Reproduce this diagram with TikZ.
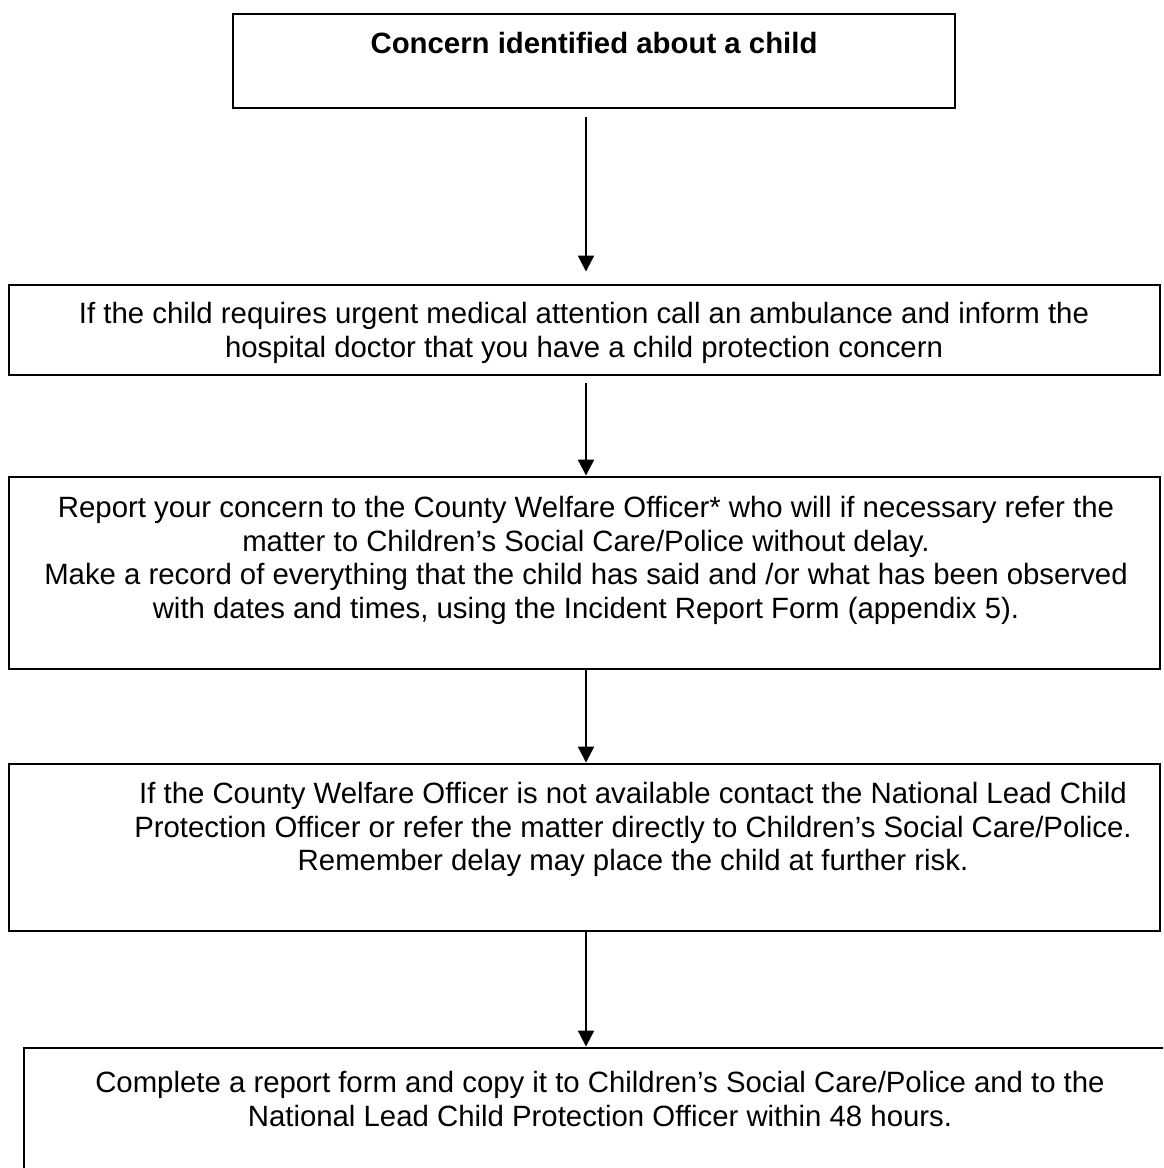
\documentclass[tikz,border=0pt]{standalone}
\usepackage{fontspec}
\setmainfont{Liberation Sans}
\usetikzlibrary{arrows.meta,fit}
\begin{document}
\begin{tikzpicture}[x=0.4088pt,y=-0.4088pt,
  box/.style={draw, line width=1.15pt, inner sep=0pt, rectangle},
  txt/.style={anchor=north, align=center, inner sep=0pt, font=\fontsize{12}{13.8}\selectfont},
  arr/.style={draw, line width=1.1pt, -{Triangle[length=6.5pt,width=6.4pt]}}]
\useasboundingbox (0,0) rectangle (1163,1168);
\clip (0,0) rectangle (1163,1168);
% boxes
\node[box, fit={(233,14)(955,108)}] (b1) {};
\node[box, fit={(9,285)(1160,375)}] (b2) {};
\node[box, fit={(9,477)(1160,669)}] (b3) {};
\node[box, fit={(9,764)(1160,931)}] (b4) {};
\node[box, fit={(24,1048)(1260,1300)}] (b5) {};
% texts
\node[txt] (t1) at (594,31.5) {\bfseries Concern identified about a child};
\node[txt] (t2) at (584,301.5) {If the child requires urgent medical attention call an ambulance and inform the\\hospital doctor that you have a child protection concern};
\node[txt] (t3) at (586,495.5) {Report your concern to the County Welfare Officer* who will if necessary refer the\\matter to Children’s Social Care/Police without delay.\\Make a record of everything that the child has said and /or what has been observed\\with dates and times, using the Incident Report Form (appendix 5).};
\node[txt] (t4) at (633,781.5) {If the County Welfare Officer is not available contact the National Lead Child\\Protection Officer or refer the matter directly to Children’s Social Care/Police.\\Remember delay may place the child at further risk.};
\node[txt] (t5) at (600,1070.5) {Complete a report form and copy it to Children’s Social Care/Police and to the\\National Lead Child Protection Officer within 48 hours.};
% connectors
\coordinate (ax) at (586,0);
\draw[arr, shorten <=3.3pt, shorten >=4.9pt] (b1.south -| ax) -- (b2.north -| ax);
\draw[arr, shorten <=2.5pt] (b2.south -| ax) -- (b3.north -| ax);
\draw[arr] (b3.south -| ax) -- (b4.north -| ax);
\draw[arr] (b4.south -| ax) -- (b5.north -| ax);
\end{tikzpicture}
\end{document}
